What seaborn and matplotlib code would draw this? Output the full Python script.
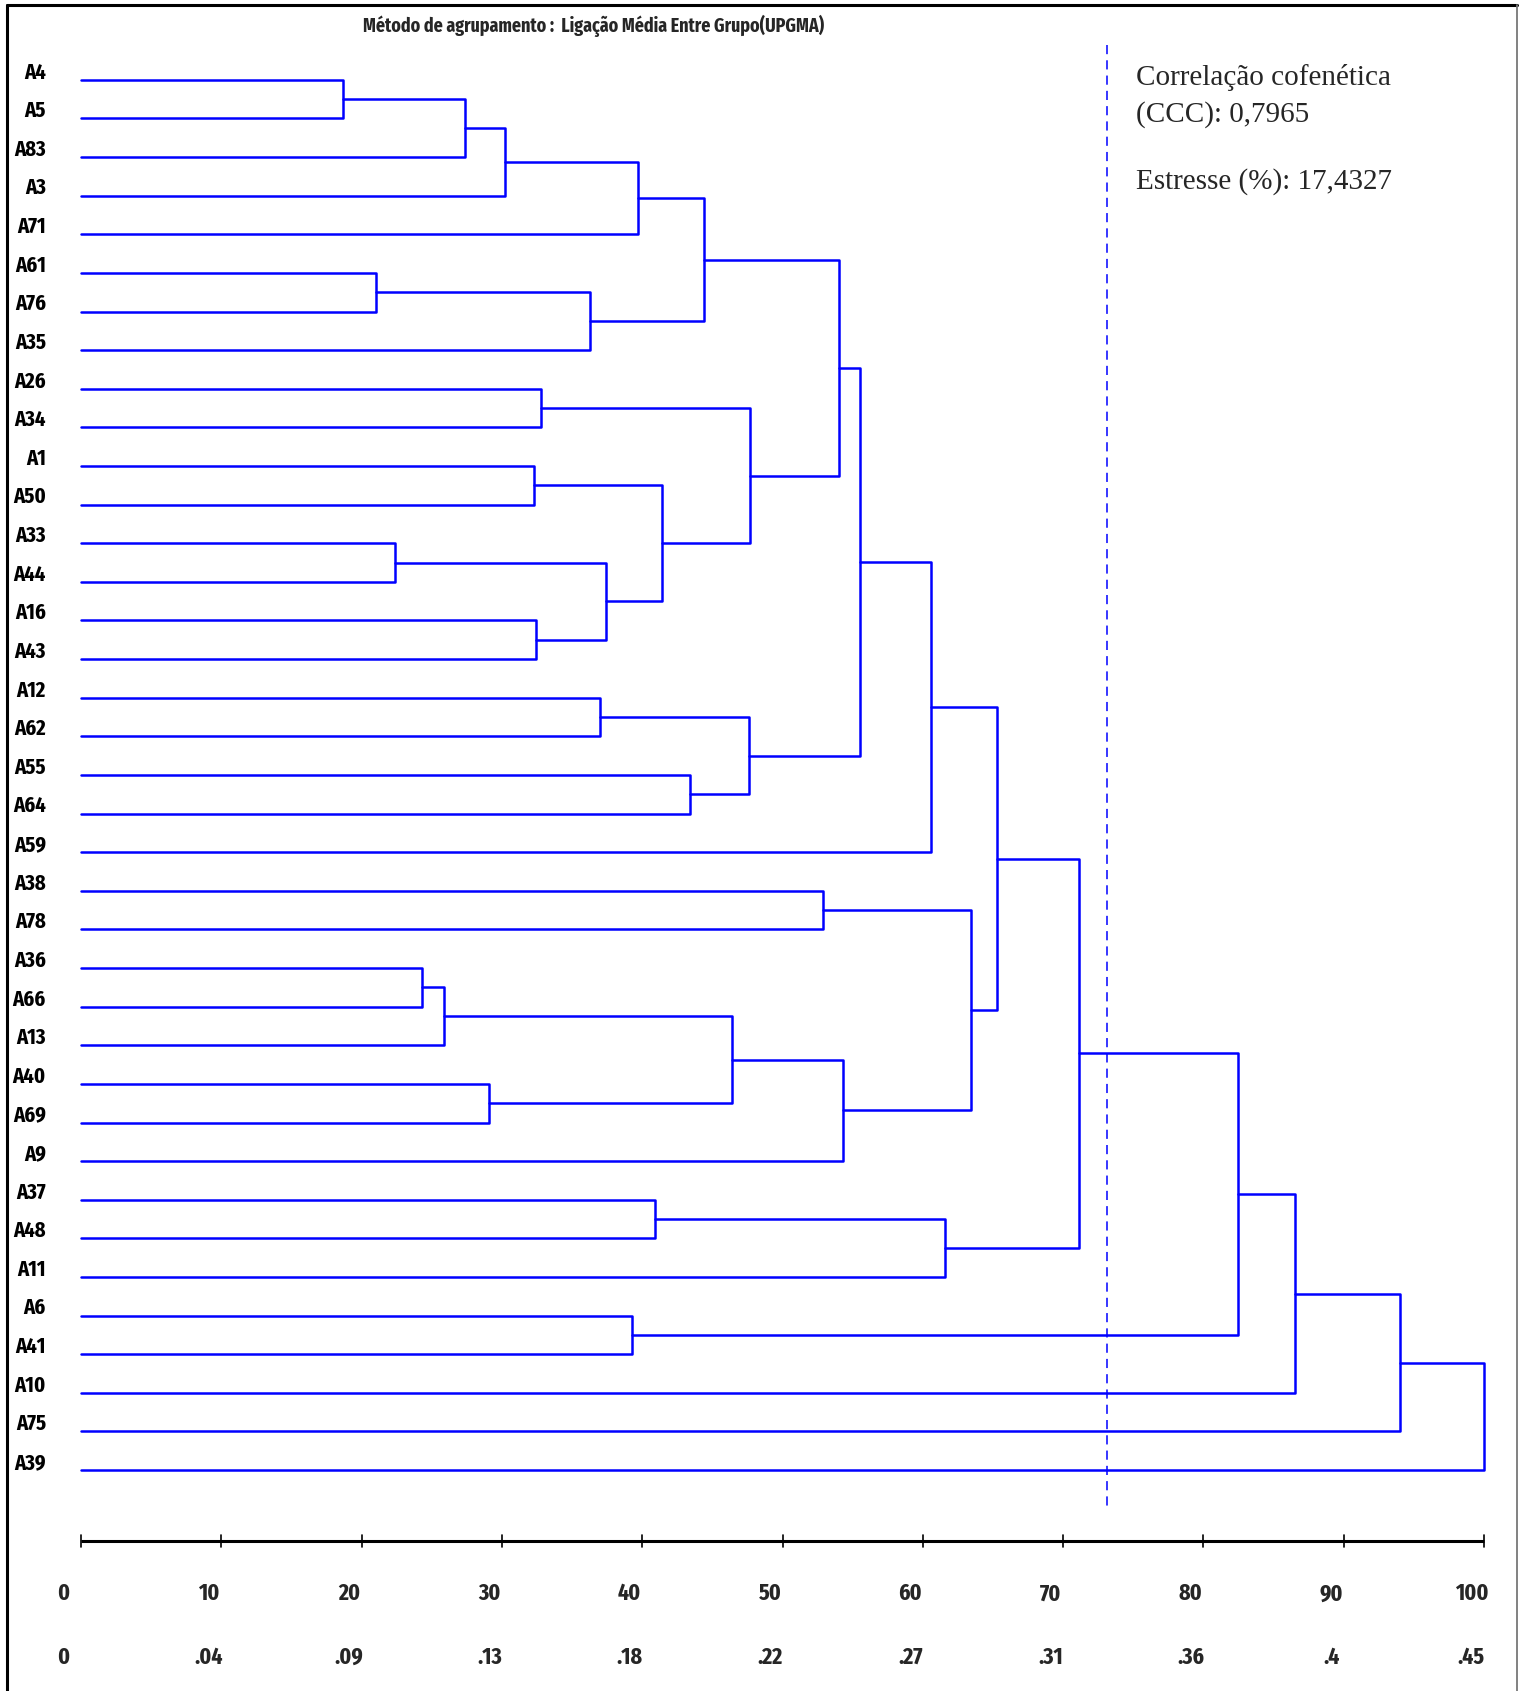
import numpy as np
import pandas as pd
import matplotlib
matplotlib.use("Agg")
import matplotlib.pyplot as plt
import seaborn as sns
from matplotlib.lines import Line2D

# ---- data -------------------------------------------------------------
leaves = ["A4", "A5", "A83", "A3", "A71", "A61", "A76", "A35", "A26", "A34",
          "A1", "A50", "A33", "A44", "A16", "A43", "A12", "A62", "A55", "A64",
          "A59", "A38", "A78", "A36", "A66", "A13", "A40", "A69", "A9", "A37",
          "A48", "A11", "A6", "A41", "A10", "A75", "A39"]

# UPGMA merges: indices < 37 are leaves, index 37 + k is the cluster of merge k
merge_left = [0, 37, 38, 39, 5, 41, 40, 8, 10, 12, 14, 46, 45, 44, 43, 16, 18, 52,
              51, 55, 21, 23, 58, 26, 59, 61, 57, 56, 29, 65, 64, 32, 67, 69, 70, 71]
merge_right = [1, 2, 3, 4, 6, 7, 42, 9, 11, 13, 15, 47, 48, 49, 50, 17, 19, 53,
               54, 20, 22, 24, 25, 27, 60, 28, 62, 63, 30, 31, 66, 33, 68, 34, 35, 36]
merge_height = [18.7, 27.4, 30.2, 39.7, 21.0, 36.3, 44.4, 32.8, 32.3, 22.4, 32.4,
                37.4, 41.4, 47.7, 54.0, 37.0, 43.4, 47.6, 55.5, 60.6, 52.9, 24.3,
                25.9, 29.1, 46.4, 54.3, 63.4, 65.3, 40.9, 61.6, 71.1, 39.3, 82.5,
                86.5, 94.0, 100.0]

scale_ticks = [0, 10, 20, 30, 40, 50, 60, 70, 80, 90, 100]
scale_labels_pct = ["0", "10", "20", "30", "40", "50", "60", "70", "80", "90", "100"]
scale_labels_dist = ["0", ".04", ".09", ".13", ".18", ".22", ".27", ".31", ".36", ".4", ".45"]

cut_level = 73.1
title = "Método de agrupamento :  Ligação Média Entre Grupo(UPGMA)"
ccc_lines = ["Correlação cofenética", "(CCC): 0,7965"]
stress_line = "Estresse (%): 17,4327"

# ---- dendrogram segments ---------------------------------------------
n = len(leaves)
node_pos = {i: float(i) for i in range(n)}
node_h = {i: 0.0 for i in range(n)}
rows = []
for k, (a, b, h) in enumerate(zip(merge_left, merge_right, merge_height)):
    xs = [node_h[a], h, h, node_h[b]]
    ys = [node_pos[a], node_pos[a], node_pos[b], node_pos[b]]
    for order, (x, y) in enumerate(zip(xs, ys)):
        rows.append({"link": k, "order": order, "dist": x, "pos": y})
    node_pos[n + k] = (node_pos[a] + node_pos[b]) / 2
    node_h[n + k] = h
links = pd.DataFrame(rows)

# ---- figure -----------------------------------------------------------
sns.set_style("white")
narrow = ["Fira Sans Extra Condensed", "Barlow Condensed", "DejaVu Sans"]
serif = ["Liberation Serif", "DejaVu Serif"]

W, H = 1520, 1691
fig = plt.figure(figsize=(W / 100, H / 100), dpi=100)
ax = fig.add_axes([0, 0, 1, 1])
ax.axis("off")

px_unit = 14.03          # pixels per distance unit
x0_px = 81.0             # pixel column of distance 0
row_px = 38.62           # pixels between leaves
y0_px = 79.8             # pixel row of first leaf
ax.set_xlim(-x0_px / px_unit, (W - x0_px) / px_unit)
ax.set_ylim((H - y0_px) / row_px, -y0_px / row_px)

sns.lineplot(data=links, x="dist", y="pos", units="link", estimator=None,
             sort=False, color="#0000ff", lw=1.8, ax=ax, legend=False)

# leaf names
for i, name in enumerate(leaves):
    ax.text(-2.5, i - 0.19, name, ha="right", va="center", fontsize=16,
            fontweight="bold", family=narrow, color="black")

# cut line
ax.plot([cut_level, cut_level], [-0.9, 36.98], color="#0000ff", lw=1.1,
        dashes=(6, 4))

# distance scale
scale_pos = 37.84
ax.plot([scale_ticks[0], scale_ticks[-1]], [scale_pos, scale_pos],
        color="black", lw=2.2, solid_capstyle="butt")
for t, l1, l2 in zip(scale_ticks, scale_labels_pct, scale_labels_dist):
    ax.plot([t, t], [scale_pos - 0.16, scale_pos + 0.16], color="black", lw=1.2)
    off = -1.28 if t == 0 else -0.9
    ax.text(t + off, 39.2, l1, ha="center", va="center", fontsize=17,
            fontweight="bold", family=narrow)
    ax.text(t + off, 40.84, l2, ha="center", va="center", fontsize=17,
            fontweight="bold", family=narrow)

# title
ax.text(36.5, -1.39, title, ha="center", va="center", fontsize=14,
        fontweight="bold", family=narrow)

# statistics
ax.text(75.2, 0.135, ccc_lines[0], ha="left", va="baseline", fontsize=21,
        family=serif)
ax.text(75.2, 1.09, ccc_lines[1], ha="left", va="baseline", fontsize=21,
        family=serif)
ax.text(75.2, 2.83, stress_line, ha="left", va="baseline", fontsize=21,
        family=serif)

# frame
fig.add_artist(Line2D([7 / W, 7 / W], [0, 1 - 5 / H], color="black", lw=2.2,
                      transform=fig.transFigure))
fig.add_artist(Line2D([7 / W, 1517 / W], [1 - 5 / H, 1 - 5 / H], color="black",
                      lw=2.2, transform=fig.transFigure))
fig.add_artist(Line2D([1517 / W, 1517 / W], [0, 1 - 5 / H], color="#777777",
                      lw=1.3, transform=fig.transFigure))

fig.savefig("out.png", dpi=100, facecolor="white")
